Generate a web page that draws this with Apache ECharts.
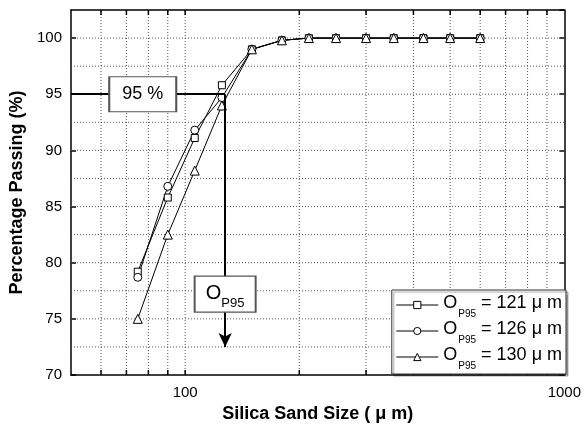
<!DOCTYPE html>
<html>
<head>
<meta charset="utf-8">
<script src="https://cdn.jsdelivr.net/npm/echarts@6/dist/echarts.min.js"></script>
<style>
  html, body { margin: 0; padding: 0; background: #fff; }
  #demo { width: 584px; height: 430px; }
</style>
</head>
<body>
<div id="demo"></div>
<script>
// sieve sizes (um) and percentage passing for the three sands
var sizes = [75, 90, 106, 125, 150, 180, 212, 250, 300, 355, 425, 500, 600];
var passA = [79.2, 85.8, 91.1, 95.8, 99.0, 99.8, 100, 100, 100, 100, 100, 100, 100];
var passB = [78.7, 86.8, 91.8, 94.7, 99.0, 99.8, 100, 100, 100, 100, 100, 100, 100];
var passC = [75.0, 82.5, 88.2, 94.0, 99.0, 99.8, 100, 100, 100, 100, 100, 100, 100];
var op95 = [121, 126, 130];
var symbols = ['rect', 'circle', 'triangle'];
var symSizes = [7, 8, 9];

var xMin = 50, xMax = 1000;
var yMin = 70, yMax = 102.5;
var gridX = [60, 70, 80, 90, 100, 200, 300, 400, 500, 600, 700, 800, 900];
var gridY = [72.5, 75, 77.5, 80, 82.5, 85, 87.5, 90, 92.5, 95, 97.5, 100];
var target = 95;
var markX = 127.5;

var font = '"Liberation Sans", Arial, sans-serif';
var myChart = echarts.init(document.getElementById('demo'));

function pairs(ys) {
    return sizes.map(function (s, i) { return [s, ys[i]]; });
}

var names = op95.map(function (v) { return 'OP95 = ' + v + ' μ m'; });
var lines = [passA, passB, passC].map(function (ys, i) {
    return {
        name: names[i],
        type: 'line',
        data: pairs(ys),
        symbol: symbols[i],
        symbolSize: symSizes[i],
        z: 4,
        lineStyle: { color: '#000', width: 1 },
        itemStyle: { color: '#fff', borderColor: '#000', borderWidth: 1 }
    };
});

var dotted = { stroke: '#555', lineWidth: 1, lineDash: [1, 2] };
var tickStyle = { stroke: '#000', lineWidth: 1.5 };

// vertical grid lines + top/bottom minor ticks on the log axis
var vGrid = {
    type: 'custom',
    silent: true,
    z: 1,
    data: gridX.map(function (v) { return [v, yMin]; }),
    renderItem: function (params, api) {
        var v = api.value(0);
        var b = api.coord([v, yMin]);
        var t = api.coord([v, yMax]);
        return {
            type: 'group',
            children: [
                { type: 'line', shape: { x1: b[0], y1: b[1], x2: t[0], y2: t[1] }, style: dotted },
                { type: 'line', shape: { x1: b[0], y1: b[1], x2: b[0], y2: b[1] - 5 }, style: tickStyle },
                { type: 'line', shape: { x1: t[0], y1: t[1], x2: t[0], y2: t[1] + 5 }, style: tickStyle }
            ]
        };
    }
};

var hGrid = {
    type: 'custom',
    silent: true,
    z: 1,
    data: gridY.map(function (v) { return [xMin, v]; }),
    renderItem: function (params, api) {
        var v = api.value(1);
        var l = api.coord([xMin, v]);
        var r = api.coord([xMax, v]);
        return { type: 'line', shape: { x1: l[0], y1: l[1], x2: r[0], y2: r[1] }, style: dotted };
    }
};

// 95 % guide line and arrow down to O95
var guide = {
    type: 'line',
    data: [],
    z: 5,
    markLine: {
        silent: true,
        animation: false,
        symbol: ['none', 'none'],
        label: { show: false },
        lineStyle: { color: '#000', width: 2, type: 'solid' },
        data: [
            [{ coord: [xMin, target] }, { coord: [markX, target] }],
            [{ coord: [markX, target] }, { coord: [markX, 72.5], symbol: 'arrow', symbolSize: [10, 14] }]
        ]
    }
};

var boxes = {
    type: 'line',
    data: [],
    z: 6,
    markPoint: {
        silent: true,
        animation: false,
        symbol: 'rect',
        itemStyle: { color: '#fff', borderColor: '#555', borderWidth: 1.5 },
        label: {
            show: true,
            position: 'inside',
            color: '#000',
            fontFamily: font,
            fontSize: 18,
            rich: {
                o: { fontSize: 20, fontFamily: font, color: '#000', lineHeight: 22, verticalAlign: 'top' },
                s: { fontSize: 13, fontFamily: font, color: '#000', lineHeight: 13, padding: [14, 0, 0, 0], verticalAlign: 'top' }
            }
        },
        data: [
            { coord: [77.3, target], symbolSize: [67, 35], label: { formatter: '95 %' } },
            { coord: [markX, 77.2], symbolSize: [61, 36], label: { formatter: '{o|O}{s|P95}' } }
        ]
    }
};

var axisLine = { show: true, lineStyle: { color: '#000', width: 1.5 } };

var option = {
    animation: false,
    textStyle: { fontFamily: font },
    grid: { left: 71, right: 16, top: 10, bottom: 55 },
    legend: {
        orient: 'vertical',
        right: 18,
        bottom: 56,
        data: names,
        itemWidth: 42,
        itemHeight: 9,
        itemGap: 1,
        padding: [4, 4, 3, 4],
        backgroundColor: '#fff',
        borderColor: '#333',
        borderWidth: 1,
        shadowColor: 'rgba(0,0,0,0.35)',
        shadowOffsetX: 2,
        shadowOffsetY: 2,
        shadowBlur: 1,
        selectedMode: false,
        itemStyle: { color: '#fff', borderColor: '#000', borderWidth: 1 },
        lineStyle: { color: '#000', width: 1 },
        formatter: function (name) {
            return '{o|O}{s|P95}{t|' + name.slice(4) + '}';
        },
        textStyle: {
            rich: {
                o: { fontSize: 18, fontFamily: font, color: '#000', lineHeight: 22, verticalAlign: 'top' },
                s: { fontSize: 10, fontFamily: font, color: '#000', lineHeight: 10, padding: [15, 0, 0, 1], verticalAlign: 'top' },
                t: { fontSize: 18, fontFamily: font, color: '#000', lineHeight: 22, verticalAlign: 'top' }
            }
        }
    },
    xAxis: [{
        type: 'log',
        logBase: 10,
        min: xMin,
        max: xMax,
        name: 'Silica Sand Size ( μ m)',
        nameLocation: 'middle',
        nameGap: 28,
        nameTextStyle: { fontSize: 18, fontWeight: 'bold', color: '#000', fontFamily: font },
        axisLine: axisLine,
        axisTick: { show: false },
        splitLine: { show: false },
        axisLabel: {
            showMinLabel: false, fontSize: 15, color: '#000', margin: 10, fontFamily: font,
            formatter: function (v) { return String(Math.round(v)); }
        }
    }, {
        type: 'log',
        logBase: 10,
        min: xMin,
        max: xMax,
        position: 'top',
        axisLine: axisLine,
        axisTick: { show: false },
        splitLine: { show: false },
        axisLabel: { show: false }
    }],
    yAxis: [{
        type: 'value',
        min: yMin,
        max: yMax,
        interval: 5,
        name: 'Percentage Passing (%)',
        nameLocation: 'middle',
        nameGap: 41,
        nameTextStyle: { fontSize: 18, fontWeight: 'bold', color: '#000', fontFamily: font },
        axisLine: axisLine,
        axisTick: { show: true, inside: true, length: 5, lineStyle: { color: '#000', width: 1.5 } },
        splitLine: { show: false },
        axisLabel: { showMaxLabel: false, fontSize: 15, color: '#000', margin: 9, fontFamily: font }
    }, {
        type: 'value',
        min: yMin,
        max: yMax,
        interval: 5,
        position: 'right',
        axisLine: axisLine,
        axisTick: { show: true, inside: true, length: 5, lineStyle: { color: '#000', width: 1.5 } },
        splitLine: { show: false },
        axisLabel: { show: false }
    }],
    series: [vGrid, hGrid].concat(lines).concat([guide, boxes])
};

myChart.setOption(option);
</script>
</body>
</html>
